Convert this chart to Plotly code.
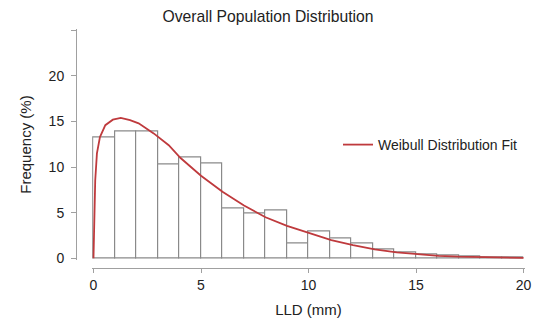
import plotly.graph_objects as go

# Histogram bins (LLD, mm) and frequencies (%)
bin_left = list(range(0, 20))
freq = [13.27, 13.96, 13.93, 10.3, 11.03, 10.45, 5.48, 4.93, 5.3, 1.62,
        2.9, 2.19, 1.62, 0.99, 0.65, 0.45, 0.3, 0.2, 0.12, 0.06]

# Weibull fit curve
fit_x = [0, 0.02, 0.04, 0.08, 0.16, 0.3, 0.55, 0.9, 1.27, 1.7, 2.1, 2.8, 3.5,
         4.05, 5.0, 6.0, 7.0, 8.0, 9.0, 10.05, 11.06, 12.07, 13.08, 14.1,
         15.0, 16.05, 17.0, 18.1, 19.0, 20.0]
fit_y = [0, 2.5, 5.0, 8.5, 11.5, 13.3, 14.6, 15.2, 15.4, 15.15, 14.8, 13.7, 12.4,
         11.0, 9.05, 7.3, 5.8, 4.5, 3.55, 2.74, 2.0, 1.46, 0.99, 0.65,
         0.45, 0.28, 0.18, 0.11, 0.07, 0.05]

x_ticks = [0, 5, 10, 15, 20]
y_ticks = [0, 5, 10, 15, 20, 25]
y_ticktext = ["0", "5", "10", "15", "20", ""]

FONT = "Liberation Sans, Arial, Helvetica, sans-serif"
AXC = "#a0a0a0"

fig = go.Figure()
fig.add_trace(go.Bar(
    x=[b + 0.5 for b in bin_left], y=freq, width=1,
    marker=dict(color="white", line=dict(color="#8a8a8a", width=1.2)),
    showlegend=False, hoverinfo="x+y",
))
fig.add_trace(go.Scatter(
    x=fit_x, y=fit_y, mode="lines", name="Weibull Distribution Fit",
    line=dict(color="#bf3a3d", width=1.8),
))

W, H = 536, 322
ml, mr, mt, mb = 60, 6, 26, 50
pw, ph = W - ml - mr, H - mt - mb

def px_to_xfrac(px):
    return (px - ml) / pw

def px_to_yfrac(py):
    return (H - mb - py) / ph

fig.update_layout(
    width=W, height=H,
    margin=dict(l=ml, r=mr, t=mt, b=mb, autoexpand=False),
    paper_bgcolor="white", plot_bgcolor="white",
    font=dict(family=FONT, size=14, color="#222"),
    bargap=0,
    title=dict(text="Overall Population Distribution", x=268 / W, xref="container",
               xanchor="center", y=1 - 17 / H, yref="container", yanchor="middle",
               font=dict(size=15.7, color="#222")),
    xaxis=dict(
        range=[-0.06, 20.06],
        domain=[px_to_xfrac(92.2), px_to_xfrac(524.8)],
        anchor="free", position=px_to_yfrac(268), automargin=False,
        showline=True, linecolor=AXC, linewidth=1,
        ticks="outside", ticklen=4, tickcolor=AXC, tickwidth=1,
        tickvals=x_ticks, showgrid=False, zeroline=False,
        tickfont=dict(size=14, color="#222"),
        title=dict(text="LLD (mm)", font=dict(size=15, color="#222"), standoff=12),
    ),
    yaxis=dict(
        range=[-0.15, 25.1],
        domain=[px_to_yfrac(259.7), px_to_yfrac(29.4)],
        anchor="free", position=px_to_xfrac(76), automargin=False,
        showline=True, linecolor=AXC, linewidth=1,
        ticks="outside", ticklen=5, tickcolor=AXC, tickwidth=1,
        tickvals=y_ticks, ticktext=y_ticktext, showgrid=False, zeroline=False,
        ticklabelstandoff=4,
        tickfont=dict(size=14, color="#222"),
        title=dict(text="Frequency (%)", font=dict(size=15, color="#222"), standoff=12),
    ),
    legend=dict(x=px_to_xfrac(338), xanchor="left", y=px_to_yfrac(145), yanchor="middle",
                bgcolor="rgba(0,0,0,0)", borderwidth=0,
                font=dict(size=14, color="#222")),
)

fig.write_html("out.html", config={"displayModeBar": False},
               post_script="document.body.style.margin='0';document.body.style.overflow='hidden';")
